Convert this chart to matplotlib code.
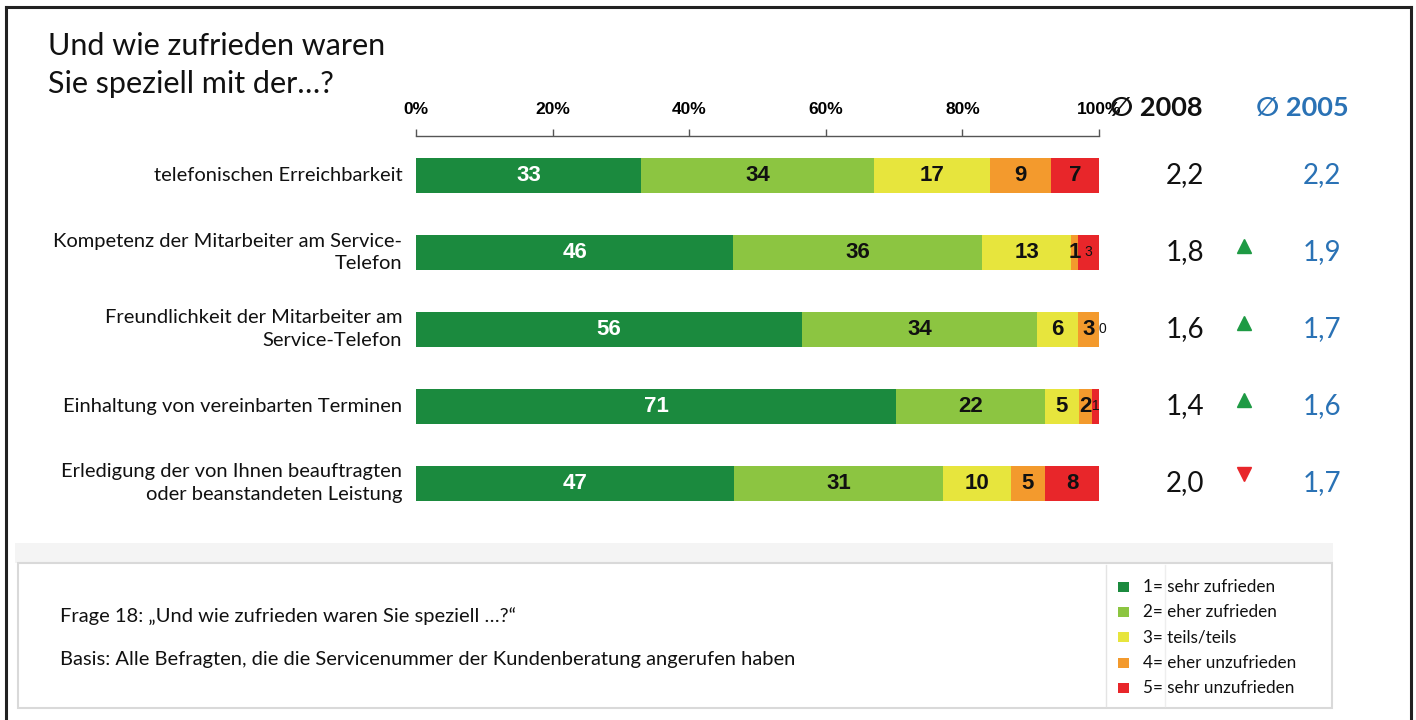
import numpy as np
import matplotlib
matplotlib.use("Agg")
import matplotlib.pyplot as plt
from matplotlib.transforms import blended_transform_factory
from matplotlib.patches import Rectangle
from matplotlib.lines import Line2D

# Satisfaction shares (in %) per service aspect, grade 1 .. 5
categories = [
    "telefonischen Erreichbarkeit",
    "Kompetenz der Mitarbeiter am Service-\nTelefon",
    "Freundlichkeit der Mitarbeiter am\nService-Telefon",
    "Einhaltung von vereinbarten Terminen",
    "Erledigung der von Ihnen beauftragten\noder beanstandeten Leistung",
]
grade_1 = [33, 46, 56, 71, 47]
grade_2 = [34, 36, 34, 22, 31]
grade_3 = [17, 13, 6, 5, 10]
grade_4 = [9, 1, 3, 2, 5]
grade_5 = [7, 3, 0, 1, 8]

# Average grades
mean_2008 = [2.2, 1.8, 1.6, 1.4, 2.0]
mean_2005 = [2.2, 1.9, 1.7, 1.6, 1.7]

legend_labels = ["1= sehr zufrieden", "2= eher zufrieden", "3= teils/teils",
                 "4= eher unzufrieden", "5= sehr unzufrieden"]
colors = ["#1b8a3e", "#8cc541", "#e7e53d", "#f39a2d", "#e8262a"]
label_colors = ["white", "#111111", "#111111", "#111111", "#111111"]

FONT = ["Lato", "DejaVu Sans"]
BAR_FONT = ["Liberation Sans", "DejaVu Sans"]
W, H = 1416, 720


def fx(px):
    return px / W


def fy(py):
    return 1 - py / H


fig = plt.figure(figsize=(W / 100, H / 100), dpi=100)
fig.patch.set_facecolor("white")

# frame round the slide (left, top, right)
for xs, ys in [((6, 6), (7, 720)), ((6, 1411), (7, 7)), ((1411, 1411), (7, 720))]:
    fig.add_artist(Line2D([fx(x) for x in xs], [fy(y) for y in ys],
                          color="#222222", lw=2.2, transform=fig.transFigure))

# title
fig.text(fx(48), fy(46), "Und wie zufrieden waren", fontsize=22, family=FONT,
         color="#111111", va="center", ha="left")
fig.text(fx(48), fy(84), "Sie speziell mit der…?", fontsize=22, family=FONT,
         color="#111111", va="center", ha="left")

# main bar axes
ax = fig.add_axes([fx(416), fy(540), fx(1099) - fx(416), (540 - 136) / H])
data = np.array([grade_1, grade_2, grade_3, grade_4, grade_5], dtype=float)
shares = data / data.sum(axis=0) * 100
y = np.arange(len(categories))
left = np.zeros(len(categories))
for k in range(5):
    ax.barh(y, shares[k], left=left, height=0.455, color=colors[k], edgecolor="none")
    for i in range(len(categories)):
        v = data[k, i]
        cx = left[i] + shares[k, i] / 2
        small = (k == 4 and v <= 3)
        if small:
            cx = left[i] + max(shares[k, i], 1.0) / 2
        ax.text(cx, y[i], f"{int(v)}", ha="center", va="center",
                fontsize=10 if small else 16, fontweight="normal" if small else "bold",
                family=BAR_FONT, color=label_colors[k])
    left += shares[k]

ax.set_xlim(0, 100)
ax.set_ylim(len(categories) - 1 + 0.74, -0.513)
ax.set_yticks([])
ax.set_xticks(np.arange(0, 101, 20))
ax.set_xticklabels([f"{t}%" for t in range(0, 101, 20)])
ax.xaxis.set_ticks_position("top")
ax.tick_params(axis="x", direction="out", length=5, width=1, color="#555555",
               pad=9, labelsize=12.5)
for lab in ax.get_xticklabels():
    lab.set_fontweight("bold")
    lab.set_family(BAR_FONT)
for side in ["right", "left", "bottom"]:
    ax.spines[side].set_visible(False)
ax.spines["top"].set_color("#555555")
ax.spines["top"].set_linewidth(1)
ax.patch.set_alpha(0)

# category labels
for i, cat in enumerate(categories):
    ax.text(-2.0, y[i], cat, ha="right", va="center", fontsize=14.5, family=FONT,
            color="#111111", linespacing=1.4)

# average columns on the right
tr = blended_transform_factory(fig.transFigure, ax.transData)
fig.text(fx(1110), fy(108), "∅ 2008", fontsize=19.5, fontweight="bold", family=FONT,
         color="#111111", va="center", ha="left")
fig.text(fx(1256), fy(108), "∅ 2005", fontsize=19.5, fontweight="bold", family=FONT,
         color="#2a72b5", va="center", ha="left")
for i in range(len(categories)):
    ax.text(fx(1185), y[i], f"{mean_2008[i]:.1f}".replace(".", ","), transform=tr,
            ha="center", va="center", fontsize=20, family=FONT, color="#111111")
    ax.text(fx(1322), y[i], f"{mean_2005[i]:.1f}".replace(".", ","), transform=tr,
            ha="center", va="center", fontsize=20, family=FONT, color="#2a72b5")
    if mean_2008[i] < mean_2005[i]:
        ax.plot(fx(1244), y[i] - 0.08, marker="^", markersize=10, color="#1e9a44",
                transform=tr, clip_on=False)
    elif mean_2008[i] > mean_2005[i]:
        ax.plot(fx(1244), y[i] - 0.12, marker="v", markersize=10, color="#e8262a",
                transform=tr, clip_on=False)

# grey band and note box at the bottom
fig.add_artist(Rectangle((fx(15), fy(563)), fx(1333) - fx(15), (563 - 543) / H,
                         transform=fig.transFigure, facecolor="#f4f4f4", edgecolor="none"))
fig.add_artist(Rectangle((fx(18), fy(708)), fx(1332) - fx(18), (708 - 563) / H,
                         transform=fig.transFigure, facecolor="white",
                         edgecolor="#d9d9d9", lw=1.5))
fig.add_artist(Line2D([fx(1106), fx(1106)], [fy(565), fy(706)], color="#e4e4e4",
                      lw=1, transform=fig.transFigure))
fig.add_artist(Line2D([fx(1165), fx(1165)], [fy(565), fy(706)], color="#eeeeee",
                      lw=1, transform=fig.transFigure))

fig.text(fx(60), fy(616), "Frage 18: „Und wie zufrieden waren Sie speziell …?“",
         fontsize=14.5, family=FONT, color="#111111", va="center", ha="left")
fig.text(fx(60), fy(660),
         "Basis: Alle Befragten, die die Servicenummer der Kundenberatung angerufen haben",
         fontsize=14.5, family=FONT, color="#111111", va="center", ha="left")

# legend
for k, lab in enumerate(legend_labels):
    ly = 587 + k * 25.2
    fig.add_artist(Rectangle((fx(1118), fy(ly + 5)), 11 / W, 10 / H,
                             transform=fig.transFigure, facecolor=colors[k],
                             edgecolor="none"))
    fig.text(fx(1143), fy(ly), lab, fontsize=12.3, family=FONT, color="#111111",
             va="center", ha="left")

fig.savefig("out.png", dpi=100, facecolor="white")
